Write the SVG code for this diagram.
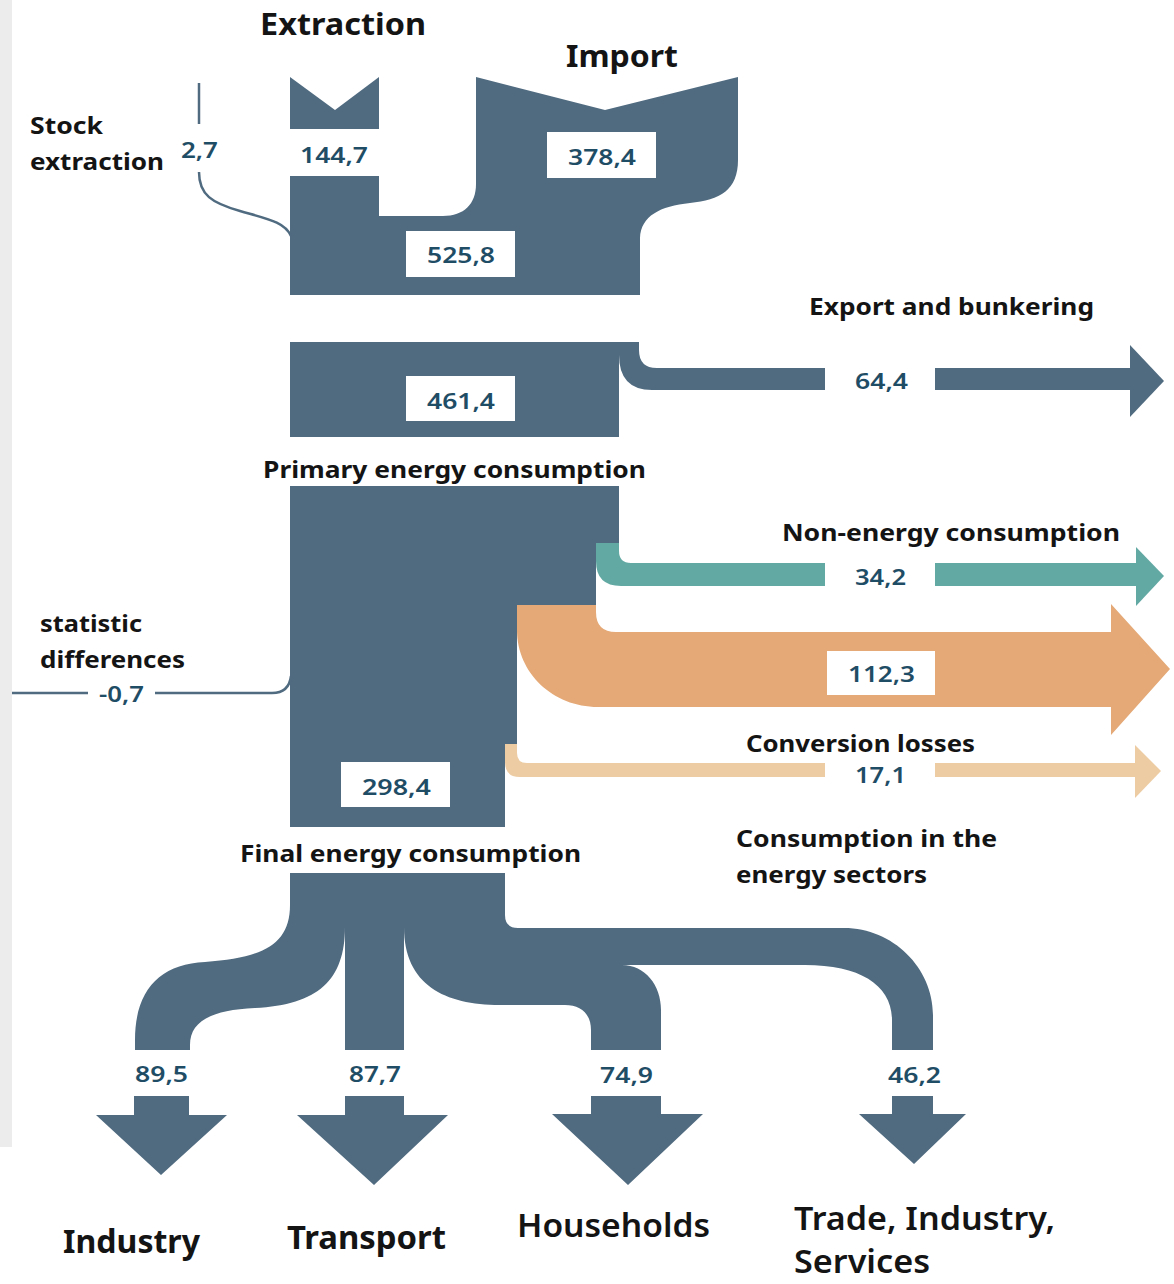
<svg xmlns="http://www.w3.org/2000/svg" width="1174" height="1284" viewBox="0 0 1174 1284">
<style>
.dk{fill:#506b80}
.teal{fill:#62a8a3}
.orng{fill:#e4a977}
.pch{fill:#edcca3}
.box{fill:#ffffff}
.ln{fill:none;stroke:#506b80;stroke-width:2.5}
.lbl{font-family:"Noto Sans","Open Sans","Liberation Sans",sans-serif;font-weight:700;fill:#141414;font-size:24px}
.big{font-size:31px}
.bot{font-size:33px}
.reg{font-weight:600}
.num{font-family:"Noto Sans","Open Sans","Liberation Sans",sans-serif;font-weight:600;fill:#1f4d66;font-size:22px}
</style>
<rect x="0" y="0" width="1174" height="1284" fill="#ffffff"/>
<rect x="0" y="0" width="12" height="1147" fill="#ececec"/>

<g id="extraction">
  <polygon class="dk" points="290,77 335,110 379,77 379,129 290,129"/>
  <text class="lbl big" x="260" y="35" textLength="166" lengthAdjust="spacingAndGlyphs">Extraction</text>
  <text class="num" x="300" y="163" textLength="68" lengthAdjust="spacingAndGlyphs">144,7</text>
</g>

<g id="import">
  <text class="lbl big" x="566" y="67" textLength="112" lengthAdjust="spacingAndGlyphs">Import</text>
</g>

<g id="stock-extraction">
  <text class="lbl" x="30" y="134" font-size="22" textLength="73" lengthAdjust="spacingAndGlyphs">Stock</text>
  <text class="lbl" x="30" y="170" font-size="22" textLength="134" lengthAdjust="spacingAndGlyphs">extraction</text>
  <text class="num" x="181" y="158" textLength="37" lengthAdjust="spacingAndGlyphs">2,7</text>
</g>

<g id="supply">
  <path class="dk" d="M290,176 L379,176 L379,216 L443,216 C464,216 476,204 476,184 L476,77 L605,110 L738,77 L738,160 C738,190 720,200 690,203 C660,206 641,216 640,238 L640,295 L290,295 Z"/>
  <rect class="box" x="547" y="132" width="109" height="46"/>
  <text class="num" x="568" y="165" textLength="68" lengthAdjust="spacingAndGlyphs">378,4</text>
  <rect class="box" x="406" y="231" width="109" height="46"/>
  <text class="num" x="427" y="263" textLength="68" lengthAdjust="spacingAndGlyphs">525,8</text>
</g>

<g id="primary">
  <path class="dk" d="M290,342 L639,342 L639,350 Q639,368 657,368 L825,368 L825,390 L652,390 Q619,390 619,355 L619,437 L290,437 Z"/>
  <rect class="box" x="406" y="376" width="109" height="45"/>
  <text class="num" x="427" y="409" textLength="68" lengthAdjust="spacingAndGlyphs">461,4</text>
  <text class="lbl" x="263" y="478" textLength="383" lengthAdjust="spacingAndGlyphs">Primary energy consumption</text>
</g>

<g id="export">
  <text class="lbl" x="809" y="315" textLength="285" lengthAdjust="spacingAndGlyphs">Export and bunkering</text>
  <text class="num" x="855" y="389" textLength="53" lengthAdjust="spacingAndGlyphs">64,4</text>
</g>

<g id="final-block">
  <path class="dk" d="M290,486 L619,486 L619,543 L596,543 L596,605 L517,605 L517,744 L505,744 L505,827 L290,827 Z"/>
  <rect class="box" x="341" y="762" width="109" height="45"/>
  <text class="num" x="362" y="795" textLength="69" lengthAdjust="spacingAndGlyphs">298,4</text>
  <text class="lbl" x="240" y="862" textLength="341" lengthAdjust="spacingAndGlyphs">Final energy consumption</text>
</g>

<g id="non-energy">
  <text class="lbl" x="782" y="541" textLength="338" lengthAdjust="spacingAndGlyphs">Non-energy consumption</text>
  <text class="num" x="855" y="585" textLength="51" lengthAdjust="spacingAndGlyphs">34,2</text>
</g>

<g id="energy-sectors">
  <text class="lbl" x="736" y="847" textLength="261" lengthAdjust="spacingAndGlyphs">Consumption in the</text>
  <text class="lbl" x="736" y="883" textLength="191" lengthAdjust="spacingAndGlyphs">energy sectors</text>
</g>

<g id="conversion-losses">
  <text class="lbl" x="746" y="752" textLength="229" lengthAdjust="spacingAndGlyphs">Conversion losses</text>
  <text class="num" x="855" y="783" textLength="51" lengthAdjust="spacingAndGlyphs">17,1</text>
</g>

<g id="statistic-differences">
  <text class="lbl" x="40" y="632" font-size="23" textLength="102" lengthAdjust="spacingAndGlyphs">statistic</text>
  <text class="lbl" x="40" y="668" font-size="23" textLength="145" lengthAdjust="spacingAndGlyphs">differences</text>
  <text class="num" x="99" y="702" textLength="45" lengthAdjust="spacingAndGlyphs">-0,7</text>
</g>

<g id="industry">
  <text class="num" x="135" y="1082" textLength="53" lengthAdjust="spacingAndGlyphs">89,5</text>
  <text class="lbl bot" x="63" y="1253" textLength="137" lengthAdjust="spacingAndGlyphs">Industry</text>
</g>
<g id="transport">
  <text class="num" x="349" y="1082" textLength="52" lengthAdjust="spacingAndGlyphs">87,7</text>
  <text class="lbl bot" x="287" y="1249" textLength="159" lengthAdjust="spacingAndGlyphs">Transport</text>
</g>
<g id="households">
  <text class="num" x="600" y="1083" textLength="53" lengthAdjust="spacingAndGlyphs">74,9</text>
  <text class="lbl bot reg" x="517" y="1237" textLength="193" lengthAdjust="spacingAndGlyphs">Households</text>
</g>
<g id="trade">
  <text class="num" x="888" y="1083" textLength="53" lengthAdjust="spacingAndGlyphs">46,2</text>
  <text class="lbl bot reg" x="794" y="1230" textLength="261" lengthAdjust="spacingAndGlyphs">Trade, Industry,</text>
  <text class="lbl bot reg" x="794" y="1273" textLength="136" lengthAdjust="spacingAndGlyphs">Services</text>
</g>

<g id="connectors">
  <line class="ln" x1="199" y1="83" x2="199" y2="124"/>
  <path class="ln" d="M199,172 C199,195 212,203 240,211 C268,219 285,222 291,236"/>
  <path class="ln" d="M12,693 L88,693 M155,693 L272,693 Q289,693 291,676" stroke-width="3"/>
  <rect class="dk" x="935" y="368" width="196" height="22"/>
  <polygon class="dk" points="1130,345 1164,381 1130,417"/>
  <path class="teal" d="M596,543 L619,543 L619,551 Q619,563 631,563 L825,563 L825,586 L621,586 Q596,586 596,561 Z"/>
  <rect class="teal" x="935" y="563" width="202" height="23"/>
  <polygon class="teal" points="1136,547 1164,576 1136,606"/>
  <path class="orng" d="M517,605 L596,605 L596,612 Q596,632 616,632 L1111,632 L1111,604 L1170,669 L1111,735 L1111,707 L598,707 C553,707 517,673 517,630 Z"/>
  <rect class="box" x="827" y="651" width="108" height="44"/>
  <text class="num" x="848" y="682" textLength="67" lengthAdjust="spacingAndGlyphs">112,3</text>
  <path class="pch" d="M505,744 L517,744 L517,753 Q517,763 527,763 L825,763 L825,777 L520,777 Q505,777 505,762 Z"/>
  <rect class="pch" x="935" y="763" width="201" height="14"/>
  <polygon class="pch" points="1135,745 1161,771 1135,798"/>
  <path class="dk" d="M290,873 L505,873 L505,915 Q505,928 518,928 L844,928 C893,928 933,968 933,1015 L933,1050 L892,1050 L892,1020 C892,985 860,965 805,965 L622,965 C645,965 661,985 661,1010 L661,1050 L591,1050 L591,1030 C591,1013 580,1005 565,1005 L500,1005 C445,1005 404,985 404,927 L404,1050 L345,1050 L345,927 C345,980 318,1005 255,1008 C210,1010 190,1022 190,1045 L190,1050 L135,1050 L135,1040 C135,990 160,964 205,962 C262,958 290,945 290,905 Z"/>
  <polygon class="dk" points="134,1096 189,1096 189,1115 227,1115 161,1175 96,1115 134,1115"/>
  <polygon class="dk" points="345,1096 404,1096 404,1115 448,1115 374,1185 297,1115 345,1115"/>
  <polygon class="dk" points="591,1096 661,1096 661,1114 703,1114 628,1185 552,1114 591,1114"/>
  <polygon class="dk" points="892,1096 933,1096 933,1114 966,1114 914,1164 859,1114 892,1114"/>
</g>
</svg>
